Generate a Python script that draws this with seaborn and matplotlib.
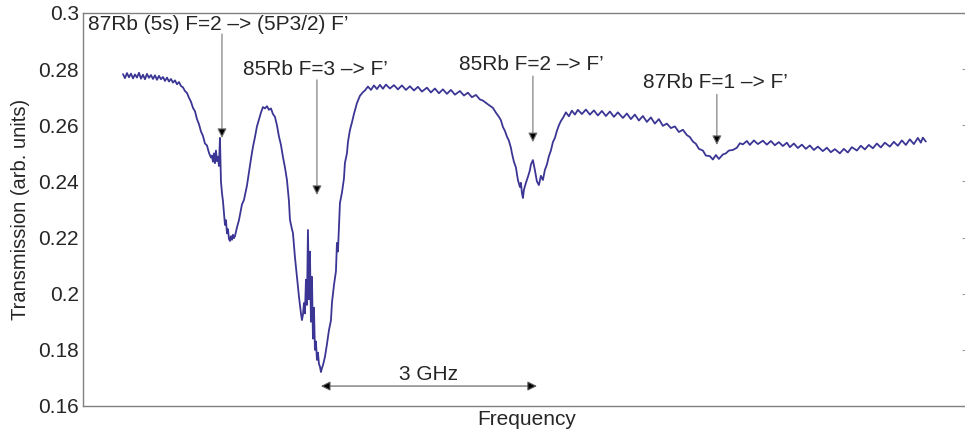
import pandas as pd
import matplotlib
matplotlib.use('Agg')
import matplotlib.pyplot as plt
import seaborn as sns

# transmission trace (frequency in arbitrary units)
freq = [40, 42, 44, 46, 48, 50, 52, 54, 56, 58, 60, 62, 64, 66, 68, 70, 72, 74, 76, 78,
        80, 82, 84, 86, 88, 90, 92, 94, 96, 98, 100, 102, 104, 106, 108, 110, 112, 114, 116, 118,
        120, 122, 124, 126, 128, 129, 130, 131, 132, 133, 134, 135, 136, 137, 138, 139, 140, 141, 142, 143,
        144, 145, 146, 147, 148, 149, 150, 151, 152, 154, 156, 158, 159, 161, 163, 164, 166, 168, 170, 172,
        174, 176, 178, 180, 182, 184, 186, 188, 190, 192, 194, 196, 198, 200, 202, 204, 206, 207, 209, 210,
        212, 214, 216, 218, 219, 220, 221, 222, 223, 224, 225, 226, 227, 228, 229, 230, 231, 232, 233, 234,
        235, 236, 237, 238, 239, 240, 242, 244, 246, 248, 249, 251, 253, 254, 255, 257, 259, 261, 262, 264,
        265, 267, 269, 271, 274, 277, 280, 282, 285, 288, 291, 294, 297, 300, 303, 307, 311, 315, 319, 323,
        327, 331, 335, 339, 344, 348, 352, 356, 360, 364, 368, 372, 377, 381, 385, 389, 393, 397, 400, 403,
        406, 410, 413, 416, 418, 420, 422, 424, 426, 428, 429, 431, 433, 435, 437, 438, 439, 440, 441, 443,
        445, 447, 448, 450, 452, 454, 456, 458, 460, 462, 464, 466, 468, 470, 472, 474, 476, 478, 480, 483,
        486, 489, 492, 495, 499, 503, 507, 511, 515, 519, 523, 527, 531, 535, 540, 544, 548, 552, 556, 560,
        564, 568, 572, 576, 580, 584, 588, 592, 596, 600, 604, 607, 610, 613, 616, 620, 623, 627, 630, 633,
        636, 640, 643, 646, 650, 654, 657, 660, 664, 667, 671, 675, 680, 684, 688, 692, 696, 700, 704, 707,
        711, 715, 719, 723, 727, 731, 735, 740, 744, 748, 752, 757, 761, 765, 769, 774, 778, 782, 786, 790,
        794, 798, 802, 807, 811, 815, 819, 823, 827, 831, 835, 838, 840, 843]
transmission = [.2782, .2768, .2786, .2771, .2784, .2767, .2781, .2770, .2787, .2766,
                .2780, .2764, .2783, .2769, .2779, .2765, .2778, .2762, .2776, .2764,
                .2772, .2758, .2770, .2756, .2765, .2752, .2760, .2746, .2754, .2740,
                .2735, .2722, .2715, .2698, .2684, .2662, .2650, .2622, .2604, .2578,
                .2562, .2535, .2528, .2502, .2485, .2492, .2470, .2500, .2465, .2510,
                .2472, .2488, .2455, .2555, .2400, .2359, .2330, .2285, .2245, .2262,
                .2215, .2230, .2195, .2188, .2205, .2192, .2210, .2198, .2205, .2236,
                .2262, .2300, .2318, .2334, .2368, .2385, .2432, .2480, .2523, .2558,
                .2596, .2620, .2645, .2665, .2660, .2668, .2655, .2660, .2640, .2630,
                .2600, .2560, .2530, .2487, .2450, .2405, .2330, .2263, .2230, .2216,
                .2130, .2060, .1990, .1930, .1906, .1925, .1967, .1930, .2050, .1960,
                .2227, .1980, .2150, .1900, .2060, .1840, .1950, .1800, .1830, .1764,
                .1790, .1750, .1740, .1721, .1735, .1745, .1775, .1820, .1870, .1905,
                .1967, .2030, .2080, .2181, .2150, .2323, .2360, .2410, .2466, .2500,
                .2540, .2583, .2610, .2640, .2679, .2705, .2718, .2724, .2738, .2726,
                .2742, .2729, .2744, .2730, .2745, .2731, .2743, .2728, .2742, .2726,
                .2739, .2724, .2737, .2720, .2734, .2717, .2731, .2714, .2728, .2712,
                .2726, .2709, .2722, .2706, .2716, .2700, .2708, .2692, .2688, .2680,
                .2672, .2662, .2645, .2630, .2618, .2594, .2580, .2560, .2545, .2520,
                .2501, .2470, .2450, .2405, .2380, .2395, .2360, .2341, .2370, .2395,
                .2416, .2440, .2460, .2476, .2440, .2400, .2387, .2420, .2405, .2441,
                .2460, .2490, .2510, .2540, .2555, .2580, .2600, .2615, .2626, .2646,
                .2632, .2652, .2638, .2655, .2640, .2656, .2638, .2653, .2635, .2651,
                .2633, .2649, .2630, .2646, .2626, .2642, .2622, .2638, .2617, .2633,
                .2612, .2628, .2606, .2622, .2598, .2606, .2590, .2596, .2576, .2584,
                .2565, .2558, .2542, .2534, .2516, .2510, .2492, .2490, .2478, .2494,
                .2480, .2496, .2500, .2510, .2512, .2520, .2536, .2532, .2544, .2530,
                .2546, .2533, .2545, .2531, .2544, .2529, .2540, .2526, .2538, .2522,
                .2535, .2519, .2531, .2516, .2528, .2512, .2524, .2508, .2520, .2504,
                .2515, .2500, .2516, .2503, .2522, .2510, .2527, .2514, .2530, .2518,
                .2535, .2521, .2538, .2524, .2541, .2527, .2546, .2530, .2550, .2533,
                .2555, .2538, .2556, .2542]

# line labels: text, text position, arrow x, arrow tail y, arrow tip y
labels = ["87Rb (5s) F=2 –> (5P3/2) F’", "85Rb F=3 –> F’", "85Rb F=2 –> F’", "87Rb F=1 –> F’"]
label_x = [5, 160, 376, 560]
label_y = [0.2958, 0.2797, 0.2815, 0.2751]
arrow_x = [139, 234, 450, 634]
arrow_top = [0.2925, 0.2762, 0.2775, 0.2710]
arrow_tip = [0.2555, 0.2352, 0.2540, 0.2530]

span_start, span_end, span_y = 238, 454, 0.1671
span_text = "3 GHz"

df = pd.DataFrame({'Frequency': freq, 'Transmission': transmission})

sns.set_style('white')
plt.rcParams['font.family'] = ['Liberation Sans', 'DejaVu Sans']

fig = plt.figure(figsize=(9.65, 4.33), dpi=100)
ax = fig.add_axes([0.086, 0.0624, 0.919, 0.9076])

sns.lineplot(data=df, x='Frequency', y='Transmission', color='#3b3694', lw=1.3, ax=ax)

ax.set_xlim(0, 887)
ax.set_ylim(0.16, 0.3)
ax.set_yticks([0.16, 0.18, 0.2, 0.22, 0.24, 0.26, 0.28, 0.3])
ax.set_yticklabels(['0.16', '0.18', '0.2', '0.22', '0.24', '0.26', '0.28', '0.3'])
ax.set_xticks([])
ax.tick_params(axis='y', direction='in', length=6, width=0.8, color='0.6',
               labelsize=15, labelcolor='0.15', pad=3, right=True)
ax.set_xlabel('Frequency', fontsize=15, color='0.15', labelpad=3)
ax.set_ylabel('Transmission (arb. units)', fontsize=14.5, color='0.15', labelpad=6)
for s in ax.spines.values():
    s.set_color('0.5')
    s.set_linewidth(1)

arrow_kw = dict(arrowstyle='-|>', mutation_scale=14, lw=0.8, facecolor='black', edgecolor='0.45',
                shrinkA=0, shrinkB=0)
for txt, tx, ty, axx, top, tip in zip(labels, label_x, label_y, arrow_x, arrow_top, arrow_tip):
    ax.text(tx, ty, txt, fontsize=15, color='0.15', va='center', ha='left')
    ax.annotate('', xy=(axx, tip), xytext=(axx, top), arrowprops=arrow_kw)

ax.annotate('', xy=(span_start, span_y), xytext=(span_end, span_y),
            arrowprops=dict(arrowstyle='<|-|>', mutation_scale=14, lw=0.8, facecolor='black',
                            edgecolor='0.35', shrinkA=0, shrinkB=0))
ax.text((span_start + span_end) / 2, span_y + 0.0008, span_text, fontsize=15, color='0.15',
        ha='center', va='bottom')

fig.savefig('out.png', dpi=100)
